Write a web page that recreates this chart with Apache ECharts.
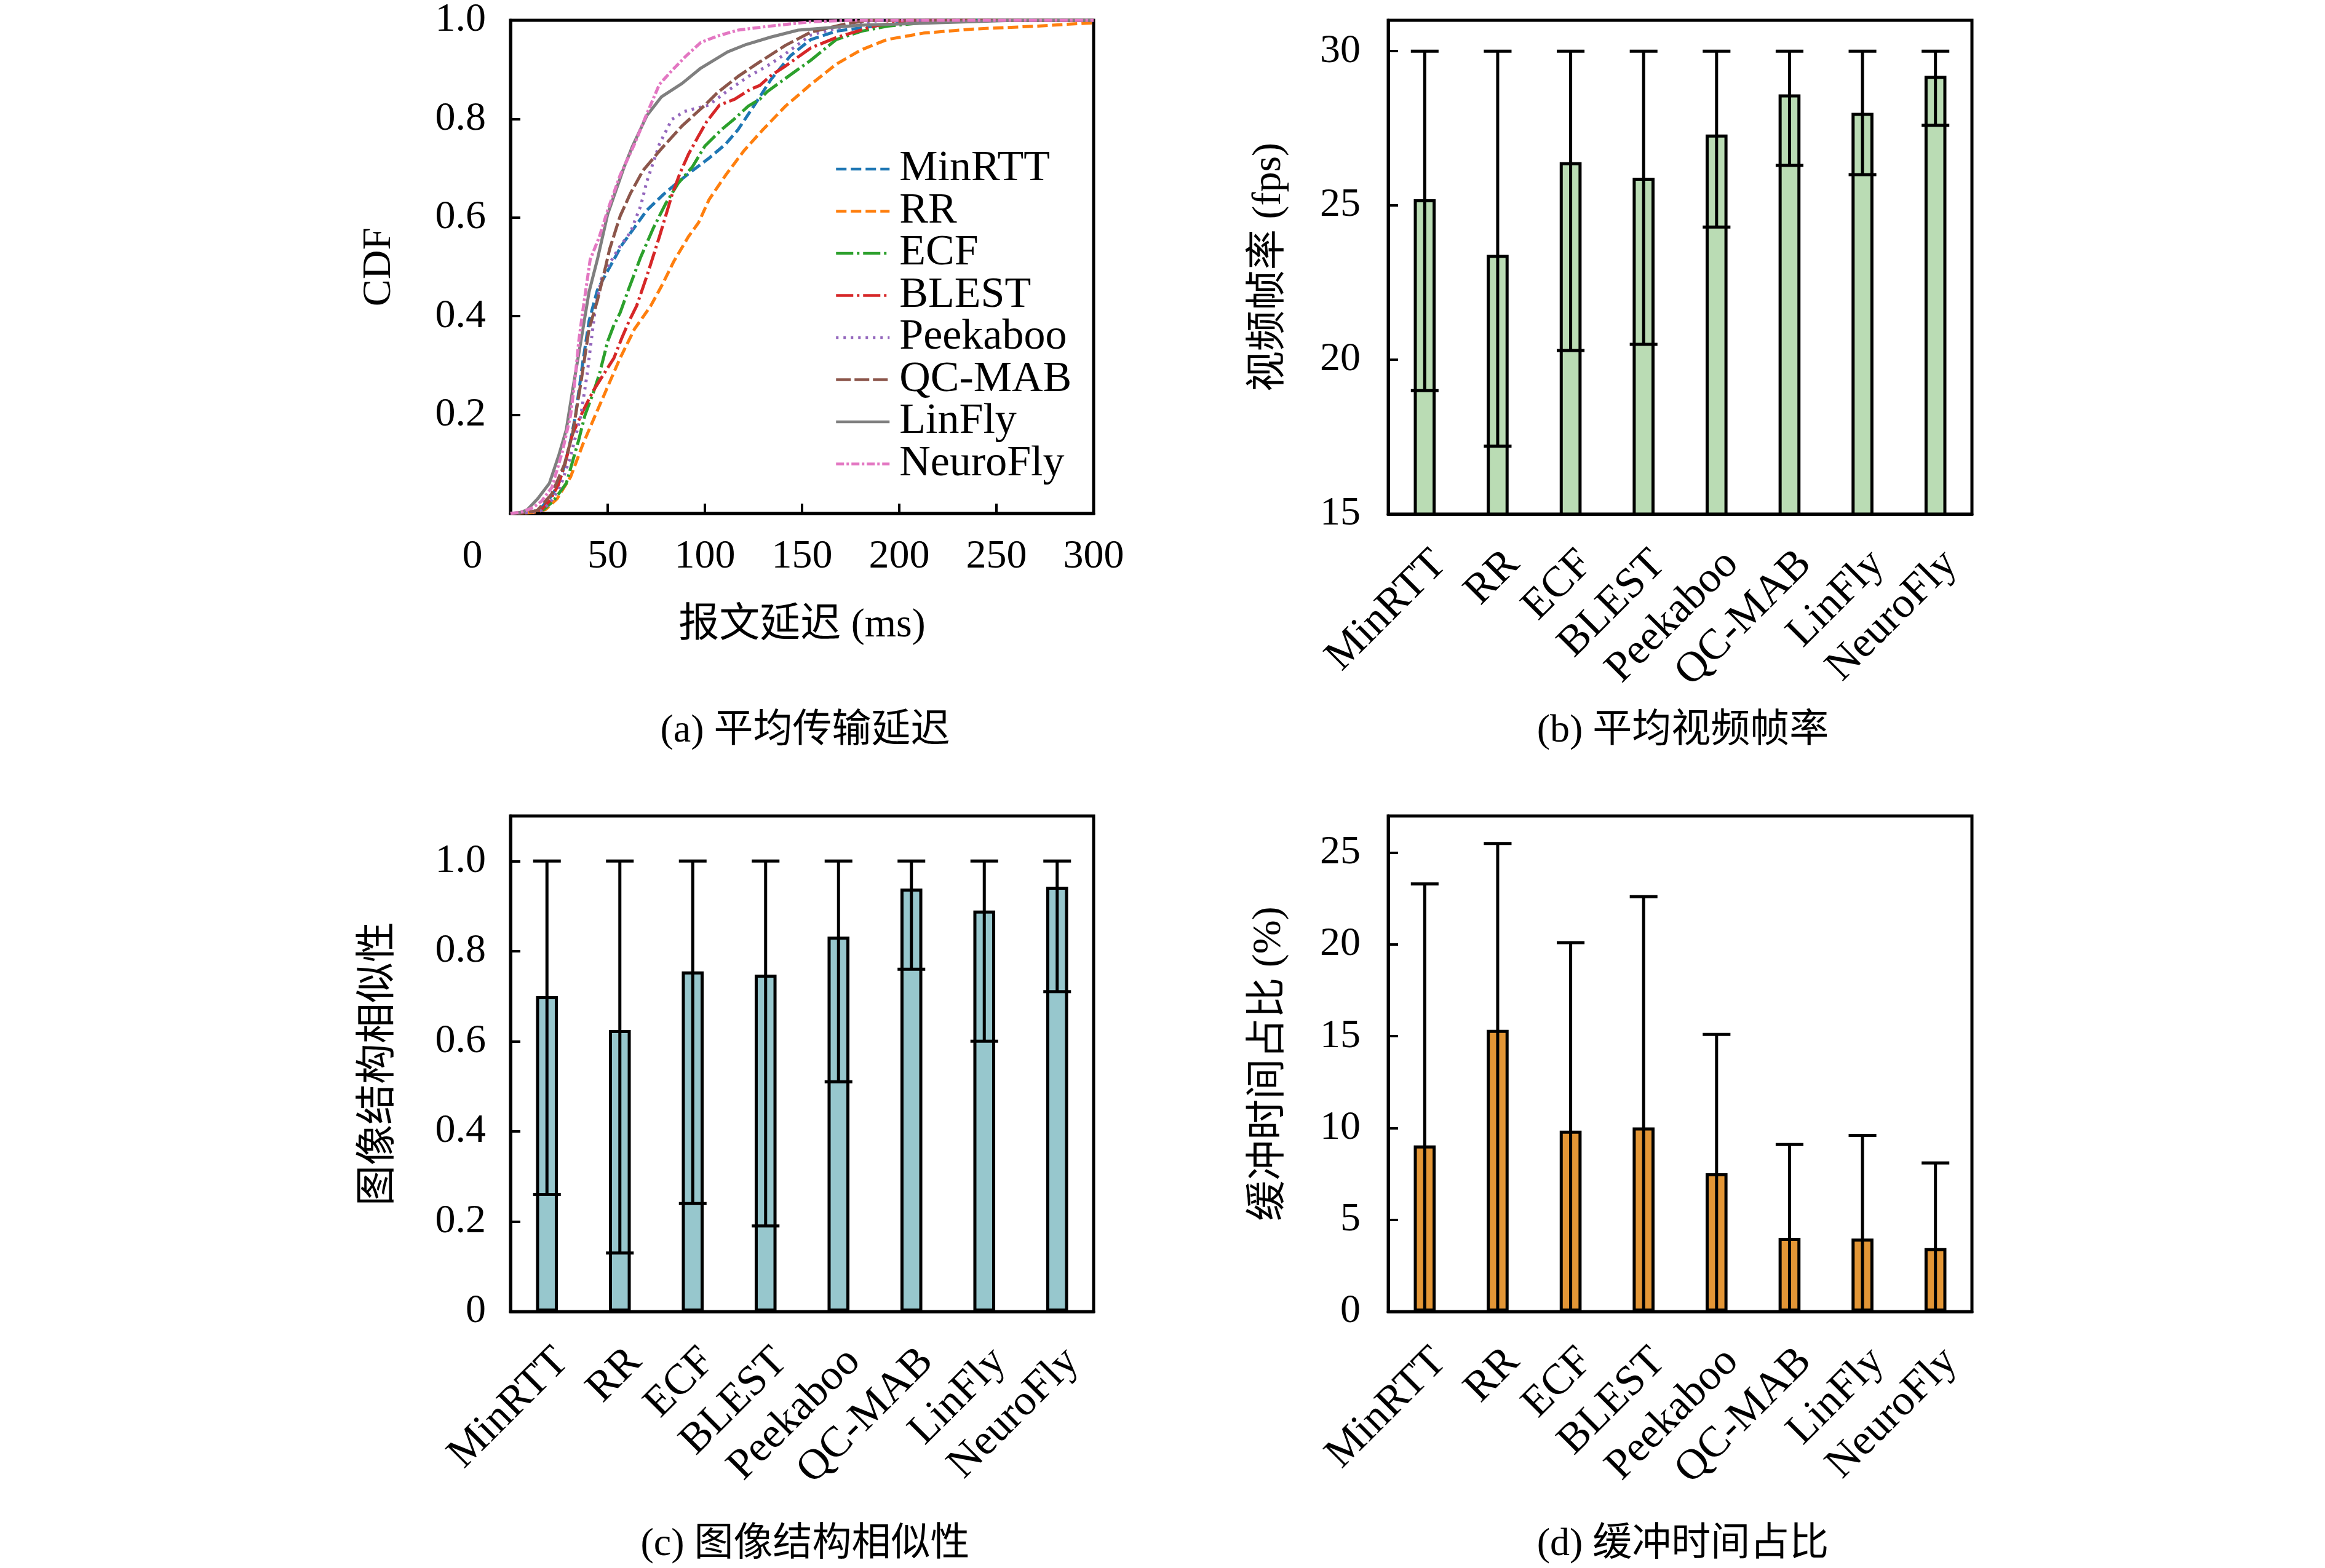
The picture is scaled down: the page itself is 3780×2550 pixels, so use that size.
<!DOCTYPE html>
<html><head><meta charset="utf-8">
<script src="https://cdn.jsdelivr.net/npm/echarts@6/dist/echarts.min.js"></script>
<style>html,body{margin:0;padding:0;background:#fff}#c{width:3780px;height:2550px}</style>
</head><body><div id="c"></div>
<script>
const methods = ['MinRTT','RR','ECF','BLEST','Peekaboo','QC-MAB','LinFly','NeuroFly'];
const cdfTicks = [50,100,150,200,250,300];

// CDF curves: [delay ms, CDF]
const cdfMinRTT = [[0,0],[10,0.002],[15,0.008],[20,0.03],[24.5,0.057],[28,0.1],[31,0.15],[33.5,0.2],[37.2,0.307],[40.4,0.39],[44.7,0.453],[50,0.492],[57.4,0.545],[63.8,0.58],[70.2,0.615],[78.7,0.647],[86.2,0.672],[93.6,0.695],[102,0.72],[110.7,0.749],[117,0.778],[125.5,0.828],[134,0.88],[144,0.928],[154.5,0.961],[167.6,0.978],[187,0.988],[215,1],[300,1]];
const cdfRR = [[0,0],[12,0.002],[18,0.008],[24,0.03],[30.9,0.074],[37.2,0.14],[43.6,0.199],[50,0.257],[56.4,0.315],[63.8,0.374],[72,0.42],[77.7,0.461],[84,0.511],[91.5,0.561],[96.8,0.59],[102.1,0.636],[110.7,0.686],[120.2,0.736],[129.8,0.778],[141.5,0.826],[154.5,0.87],[167.6,0.911],[180.4,0.94],[193.8,0.961],[212.5,0.974],[237,0.982],[270,0.988],[300,0.995]];
const cdfECF = [[0,0],[10,0.002],[17,0.008],[22,0.025],[28.7,0.061],[35.1,0.149],[38.3,0.199],[42.6,0.245],[45.7,0.282],[50,0.349],[53,0.38],[56.4,0.407],[60.6,0.453],[67,0.52],[73.4,0.578],[79.8,0.628],[86.2,0.669],[93.6,0.703],[100,0.745],[108.5,0.778],[114.9,0.799],[122.3,0.826],[128.3,0.84],[132,0.855],[141.4,0.882],[154.5,0.919],[167.6,0.961],[180.7,0.978],[193.8,0.988],[225,1],[300,1]];
const cdfBLEST = [[0,0],[10,0.002],[16,0.008],[20,0.025],[24.5,0.057],[28,0.1],[31.9,0.161],[37.2,0.207],[42.6,0.249],[47.9,0.282],[53.2,0.315],[57.4,0.357],[61,0.39],[64.9,0.421],[70.2,0.482],[76.6,0.561],[83,0.645],[87.2,0.69],[91.5,0.728],[96.8,0.766],[101,0.795],[107.5,0.828],[115.3,0.84],[123.4,0.86],[128.3,0.868],[134,0.888],[141.4,0.907],[154.5,0.944],[167.6,0.965],[187,0.988],[205,1],[300,1]];
const cdfPeekaboo = [[0,0],[10,0.002],[16,0.006],[20,0.02],[25.5,0.053],[30.9,0.115],[36.2,0.199],[39.4,0.282],[41.5,0.349],[43.6,0.415],[47,0.48],[51,0.507],[56,0.54],[61.7,0.57],[67,0.624],[70.2,0.674],[73.4,0.711],[76.6,0.749],[83,0.799],[89.4,0.815],[95.8,0.822],[102,0.828],[111.7,0.857],[122.3,0.886],[128.3,0.899],[134,0.912],[141.4,0.932],[154.5,0.97],[167.6,0.984],[190,1],[300,1]];
const cdfQCMAB = [[0,0],[8,0.002],[13.8,0.006],[21.3,0.04],[27.7,0.099],[31.9,0.161],[36.2,0.265],[40.4,0.374],[44.7,0.432],[48.9,0.5],[51,0.536],[56.4,0.603],[61.7,0.649],[68.1,0.695],[77.7,0.74],[88.3,0.786],[100,0.828],[106.4,0.853],[117,0.886],[128,0.915],[141.4,0.949],[154.5,0.976],[174,0.994],[185,1],[300,1]];
const cdfLinFly = [[0,0],[5,0.002],[8.5,0.007],[14,0.03],[20,0.061],[25,0.12],[28.7,0.17],[31.9,0.249],[36.2,0.349],[40.4,0.449],[44.7,0.515],[50,0.607],[58.5,0.703],[62.8,0.745],[70.2,0.807],[77.7,0.845],[88.3,0.872],[97.9,0.903],[111.7,0.936],[121.3,0.951],[134,0.966],[148,0.98],[180,0.99],[220,0.995],[260,1],[300,1]];
const cdfNeuroFly = [[0,0],[6,0.003],[11.7,0.012],[16,0.025],[21.3,0.053],[26.6,0.124],[30.9,0.199],[33,0.265],[35.1,0.349],[37.2,0.411],[41,0.515],[45.7,0.561],[50,0.615],[56.4,0.686],[63.8,0.749],[70.2,0.811],[76.6,0.87],[83,0.898],[90.4,0.928],[97.9,0.955],[106.4,0.968],[117,0.98],[133,0.988],[154.5,0.997],[175,1],[300,1]];

// (b) frame rate
const fpsMean = [25.2,23.4,26.4,25.9,27.3,28.6,28.0,29.2];
const fpsLow  = [19.0,17.2,20.3,20.5,24.3,26.3,26.0,27.6];
const fpsHigh = [30,30,30,30,30,30,30,30];
// (c) SSIM
const ssimMean = [0.70,0.625,0.755,0.748,0.832,0.939,0.89,0.943];
const ssimLow  = [0.26,0.13,0.24,0.19,0.51,0.76,0.60,0.71];
const ssimHigh = [1,1,1,1,1,1,1,1];
// (d) rebuffering ratio (%)
const bufMean = [9.05,15.35,9.86,10.03,7.54,4.02,3.98,3.46];
const bufLow  = [0,0,0,0,0,0,0,0];
const bufHigh = [23.3,25.5,20.1,22.6,15.1,9.1,9.6,8.1];

const FONT = '"Liberation Serif","Noto Sans CJK SC",serif';
const FS = 66;
const colors = ['#1f77b4','#ff7f0e','#2ca02c','#d62728','#9467bd','#8c564b','#7f7f7f','#e377c2'];
const dashes = [[17,7],[17,7],[28,6,4,6],[28,6,4,6],[4,8],[24,6],'solid',[13,4,4,4]];
const cdfData = [cdfMinRTT,cdfRR,cdfECF,cdfBLEST,cdfPeekaboo,cdfQCMAB,cdfLinFly,cdfNeuroFly];

const grids = [
  {left:830, top:33, width:948, height:802},
  {left:2257, top:33, width:949, height:803},
  {left:830, top:1327, width:948, height:806},
  {left:2257, top:1327, width:949, height:806}
].map(g => Object.assign(g, {show:true, borderColor:'#000', borderWidth:5, backgroundColor:'transparent'}));

const lbl = {fontSize:FS, fontFamily:FONT, color:'#000'};
const axLine = {show:true, lineStyle:{color:'#000', width:5}};
const tick = {show:true, inside:true, length:16, lineStyle:{color:'#000', width:4}};

const xAxes = [
  {gridIndex:0, type:'value', min:0, max:300, interval:50, axisLine:axLine, axisTick:tick, splitLine:{show:false},
   axisLabel:Object.assign({margin:38, formatter:v => cdfTicks.includes(v) ? String(v) : ''}, lbl),
   name:'报文延迟 (ms)', nameLocation:'middle', nameGap:150, nameTextStyle:lbl}
];
for (let g=1; g<4; g++) {
  xAxes.push({gridIndex:g, type:'category', data:methods, axisLine:axLine,
    axisTick:Object.assign({alignWithLabel:true}, tick), splitLine:{show:false},
    axisLabel:{rotate:45, margin:46, interval:0, verticalAlign:'top', fontSize:70, fontFamily:FONT, color:'#000'}});
}
const yAxes = [
  {gridIndex:0, type:'value', min:0, max:1, interval:0.2, axisLine:axLine, axisTick:tick, splitLine:{show:false},
   axisLabel:Object.assign({margin:40, formatter:v => v === 0 ? '' : v.toFixed(1)}, lbl),
   name:'CDF', nameLocation:'middle', nameGap:180, nameTextStyle:lbl},
  {gridIndex:1, type:'value', min:15, max:31, interval:5, axisLine:axLine, axisTick:tick, splitLine:{show:false},
   axisLabel:Object.assign({margin:45, formatter:v => v <= 30 ? String(v) : ''}, lbl),
   name:'视频帧率 (fps)', nameLocation:'middle', nameGap:160, nameTextStyle:lbl},
  {gridIndex:2, type:'value', min:0, max:1.1, interval:0.2, axisLine:axLine, axisTick:tick, splitLine:{show:false},
   axisLabel:Object.assign({margin:40, formatter:v => v > 1.05 ? '' : (v === 0 ? '0' : v.toFixed(1))}, lbl),
   name:'图像结构相似性', nameLocation:'middle', nameGap:180, nameTextStyle:lbl},
  {gridIndex:3, type:'value', min:0, max:27, interval:5, axisLine:axLine, axisTick:tick, splitLine:{show:false},
   axisLabel:Object.assign({margin:45, formatter:v => v <= 25 ? String(v) : ''}, lbl),
   name:'缓冲时间占比 (%)', nameLocation:'middle', nameGap:160, nameTextStyle:lbl}
];

const series = [];
methods.forEach((m,i) => {
  series.push({name:m, type:'line', xAxisIndex:0, yAxisIndex:0, data:cdfData[i], symbol:'none', showSymbol:false,
    lineStyle:{color:colors[i], width:5, type:dashes[i]}, itemStyle:{color:colors[i]}, z:2+i});
});

function errRender(axisMin) {
  return function(params, api) {
    const i = api.value(0), lo = api.value(1), hi = api.value(2);
    const pHi = api.coord([i, hi]), pLo = api.coord([i, lo]);
    const hw = api.size([1,0])[0] * 0.19;
    const st = {stroke:'#000', lineWidth:5};
    const ch = [
      {type:'line', shape:{x1:pHi[0], y1:pHi[1], x2:pLo[0], y2:pLo[1]}, style:st},
      {type:'line', shape:{x1:pHi[0]-hw, y1:pHi[1], x2:pHi[0]+hw, y2:pHi[1]}, style:st}
    ];
    if (lo > axisMin) ch.push({type:'line', shape:{x1:pLo[0]-hw, y1:pLo[1], x2:pLo[0]+hw, y2:pLo[1]}, style:st});
    return {type:'group', children:ch};
  };
}
const barSets = [
  {mean:fpsMean, low:fpsLow, high:fpsHigh, color:'#badcb4', min:15},
  {mean:ssimMean, low:ssimLow, high:ssimHigh, color:'#97c7cd', min:0},
  {mean:bufMean, low:bufLow, high:bufHigh, color:'#e39636', min:0}
];
barSets.forEach((b,k) => {
  const g = k+1;
  series.push({name:'bar'+g, type:'bar', xAxisIndex:g, yAxisIndex:g, data:b.mean, barWidth:'30%',
    itemStyle:{color:b.color, borderColor:'#000', borderWidth:5}, z:2});
  series.push({name:'err'+g, type:'custom', xAxisIndex:g, yAxisIndex:g, renderItem:errRender(b.min),
    data:b.mean.map((v,i) => [i, b.low[i], b.high[i]]), encode:{x:0, y:[1,2]}, z:5});
});

const capStyle = {fontSize:64, fontFamily:FONT, color:'#000', fontWeight:'normal'};
const option = {
  backgroundColor:'#fff',
  animation:false,
  grid:grids, xAxis:xAxes, yAxis:yAxes, series:series,
  title:[
    {text:'(a) 平均传输延迟', left:1304, top:1152, textAlign:'center', textStyle:capStyle},
    {text:'(b) 平均视频帧率', left:2731, top:1152, textAlign:'center', textStyle:capStyle},
    {text:'(c) 图像结构相似性', left:1304, top:2475, textAlign:'center', textStyle:capStyle},
    {text:'(d) 缓冲时间占比', left:2731, top:2475, textAlign:'center', textStyle:capStyle}
  ],
  legend:{show:true, data:methods, orient:'vertical', left:1352, top:235, itemWidth:87, itemHeight:20, itemGap:-1.5,
    itemStyle:{opacity:0}, lineStyle:{width:4.5},
    textStyle:{fontSize:70, fontFamily:FONT, color:'#000', lineHeight:70, padding:[0,0,0,11]}, selectedMode:false},
  graphic:[{type:'text', style:{x:768, y:906, text:'0', fontSize:FS, fontFamily:FONT, fill:'#000', textAlign:'center', textVerticalAlign:'middle'}}]
};
const chart = echarts.init(document.getElementById('c'));
chart.setOption(option);
</script></body></html>
